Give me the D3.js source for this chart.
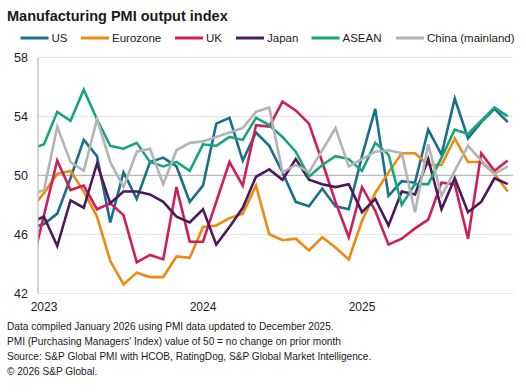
<!DOCTYPE html>
<html>
<head>
<meta charset="utf-8">
<script src="https://cdn.jsdelivr.net/npm/d3@7"></script>
<style>
  html, body { margin: 0; padding: 0; background: #fff; }
  svg { display: block; font-family: "Liberation Sans", Arial, sans-serif; }
</style>
</head>
<body>
<svg id="chart" width="526" height="392"></svg>
<script>
// Months: Dec 2022 (index -1, partly clipped at the axis) .. Dec 2025 (index 35)
const monthIndex = d3.range(-1, 36);
const yearTicks = [0, 12, 24];
const yearLabels = ["2023", "2024", "2025"];
const yTicks = [42, 46, 50, 54, 58];

const seriesNames = ["US", "Eurozone", "UK", "Japan", "ASEAN", "China (mainland)"];
const seriesColors = ["#1b6f8e", "#ee8a10", "#d01e5a", "#4a1a5c", "#17a57b", "#b4b4b4"];

const usValues = [46.4, 46.7, 47.4, 49.8, 52.4, 51.3, 46.8, 50.2, 48.4, 50.9, 51.2, 50.6, 48.2,
  49.3, 53.5, 53.9, 51.0, 52.9, 52.0, 50.2, 48.2, 47.9, 49.1, 47.9, 47.7,
  51.3, 54.5, 48.6, 49.6, 49.5, 53.1, 51.4, 55.2, 52.5, 53.6, 54.5, 53.6];
const eurozoneValues = [47.7, 48.8, 50.1, 50.3, 48.9, 47.2, 44.2, 42.6, 43.4, 43.1, 43.1, 44.5, 44.4,
  46.5, 46.6, 47.1, 47.4, 49.3, 46.0, 45.6, 45.7, 44.9, 45.8, 45.1, 44.3,
  46.9, 48.8, 50.2, 51.5, 51.5, 50.7, 50.7, 52.5, 50.9, 50.9, 50.1, 48.9];
const ukValues = [43.6, 47.3, 51.0, 49.0, 49.3, 47.7, 48.1, 47.3, 44.1, 44.6, 44.3, 49.2, 45.5,
  45.5, 48.2, 50.9, 49.3, 53.4, 53.3, 55.0, 54.4, 53.5, 50.9, 48.2, 45.8,
  49.2, 47.6, 45.3, 45.7, 46.4, 47.0, 49.5, 49.4, 45.7, 51.5, 50.3, 51.0];
const japanValues = [46.8, 47.2, 45.2, 48.3, 47.8, 50.8, 48.1, 48.9, 48.9, 48.7, 48.2, 47.2, 46.8,
  47.7, 45.3, 46.5, 47.8, 49.9, 50.4, 49.7, 51.1, 49.7, 49.4, 49.2, 49.4,
  47.5, 48.4, 46.6, 48.9, 48.7, 51.1, 47.7, 49.8, 47.5, 48.2, 49.8, 49.4];
const aseanValues = [51.8, 52.1, 54.3, 53.7, 55.8, 53.8, 52.0, 51.8, 52.2, 50.9, 50.6, 50.9, 50.3,
  52.1, 52.0, 52.6, 52.4, 53.9, 53.4, 52.6, 51.6, 49.9, 50.7, 51.3, 51.1,
  50.3, 52.2, 51.4, 48.0, 49.4, 49.4, 51.2, 53.1, 52.8, 53.7, 54.6, 54.0];
const chinaValues = [48.7, 49.0, 53.3, 50.9, 50.3, 53.8, 50.9, 49.2, 51.6, 51.8, 49.4, 51.7, 52.2,
  52.3, 52.6, 52.9, 53.2, 54.3, 54.6, 50.2, 50.7, 50.2, 51.7, 53.2, 50.6,
  51.1, 51.6, 51.7, 51.5, 47.5, 52.1, 48.6, 50.3, 52.0, 51.0, 50.1, 50.6];

const seriesValues = [usValues, eurozoneValues, ukValues, japanValues, aseanValues, chinaValues];

const titleText = "Manufacturing PMI output index";
const footnotes = [
  "Data compiled January 2026 using PMI data updated to December 2025.",
  "PMI (Purchasing Managers' Index) value of 50 = no change on prior month",
  "Source: S&P Global PMI with HCOB, RatingDog, S&P Global Market Intelligence.",
  "\u00A9 2026 S&P Global."
];

// ---------- drawing ----------
const svg = d3.select("#chart");
const plot = { left: 38, right: 513, top: 57.3, bottom: 293.3 };

const x = d3.scaleLinear().domain([0, 35]).range([44, 507.75]);
const y = d3.scaleLinear().domain([42, 58]).range([plot.bottom, plot.top]);

svg.append("text")
  .attr("x", 7).attr("y", 21)
  .attr("font-size", 14.5).attr("font-weight", "bold").attr("fill", "#1a1a1a")
  .text(titleText);

// legend
const legendPos = [20.5, 81, 175, 236, 311.5, 396];
const lg = svg.append("g");
seriesNames.forEach((n, k) => {
  const g = lg.append("g").attr("transform", `translate(${legendPos[k]},38)`);
  g.append("line").attr("x1", 0).attr("x2", 28).attr("y1", 0).attr("y2", 0)
    .attr("stroke", seriesColors[k]).attr("stroke-width", 3);
  g.append("text").attr("x", 31).attr("y", 4.2).attr("font-size", 11.5).attr("fill", "#222").text(n);
});

// gridlines
svg.append("g").selectAll("line").data(yTicks).join("line")
  .attr("x1", plot.left).attr("x2", plot.right)
  .attr("y1", d => y(d)).attr("y2", d => y(d))
  .attr("stroke", d => d === 50 ? "#a8a8a8" : "#e2e2e2")
  .attr("stroke-width", 1);

// y labels
svg.append("g").selectAll("text").data(yTicks).join("text")
  .attr("x", 28).attr("y", d => y(d) + 4.3)
  .attr("text-anchor", "end").attr("font-size", 12.5).attr("fill", "#222")
  .text(d => d);

// left axis
svg.append("line").attr("x1", plot.left).attr("x2", plot.left)
  .attr("y1", plot.top).attr("y2", plot.bottom)
  .attr("stroke", "#a8a8a8").attr("stroke-width", 1);

// x labels
svg.append("g").selectAll("text").data(yearTicks).join("text")
  .attr("x", d => x(d)).attr("y", 311)
  .attr("text-anchor", "middle").attr("font-size", 12).attr("fill", "#222")
  .text((d, i) => yearLabels[i]);

// clip
svg.append("defs").append("clipPath").attr("id", "plotclip")
  .append("rect").attr("x", plot.left + 0.5).attr("y", 0)
  .attr("width", plot.right - plot.left).attr("height", 392);

const line = d3.line().x(d => x(d[0])).y(d => y(d[1]));
const lines = svg.append("g").attr("clip-path", "url(#plotclip)");
seriesValues.forEach((vals, k) => {
  lines.append("path")
    .datum(monthIndex.map((m, j) => [m, vals[j]]))
    .attr("fill", "none")
    .attr("stroke", seriesColors[k])
    .attr("stroke-width", 2.6)
    .attr("stroke-linejoin", "miter")
    .attr("d", line);
});

// footnotes
svg.append("g").selectAll("text").data(footnotes).join("text")
  .attr("x", 7).attr("y", (d, i) => 330.3 + i * 15)
  .attr("font-size", 10.1).attr("fill", "#1a1a1a")
  .text(d => d);
</script>
</body>
</html>
